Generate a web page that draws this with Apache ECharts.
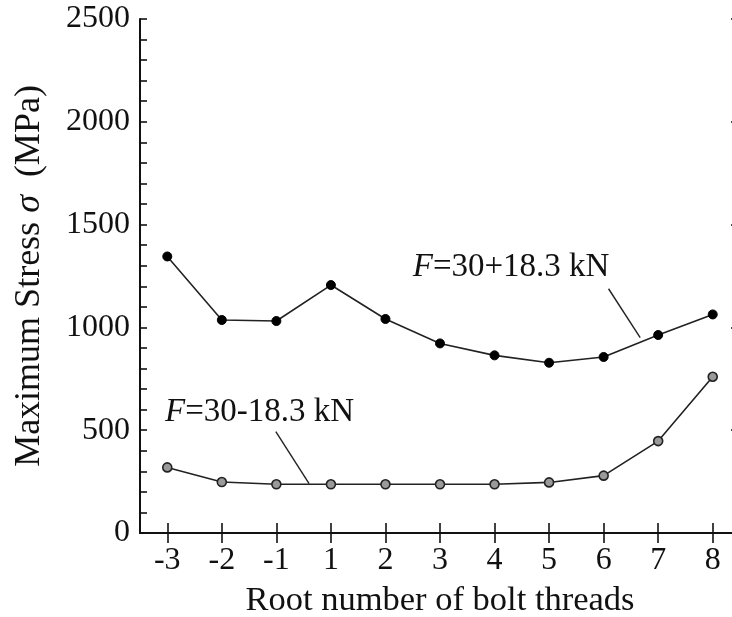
<!DOCTYPE html>
<html>
<head>
<meta charset="utf-8">
<script src="https://cdn.jsdelivr.net/npm/echarts@6/dist/echarts.min.js"></script>
<style>
  html, body { margin: 0; padding: 0; background: #fff; }
  #chart { width: 732px; height: 617px; }
</style>
</head>
<body>
<div id="chart"></div>
<script>
// Root numbers of the engaged bolt threads
const threads = ['-3', '-2', '-1', '1', '2', '3', '4', '5', '6', '7', '8'];
// Maximum stress (MPa) at each thread root
const stressHigh = [1345, 1036, 1031, 1206, 1041, 922, 864, 828, 856, 963, 1063]; // F = 30 + 18.3 kN
const stressLow  = [319, 248, 237, 237, 237, 237, 237, 246, 279, 447, 760];       // F = 30 - 18.3 kN
const yTicks = [0, 500, 1000, 1500, 2000, 2500];

// Callout labels: text anchor and leader line ends, in data units (category index, MPa)
const calloutHigh = { label: [4.5, 1292], from: [8.09, 1188], to: [8.67, 950] };
const calloutLow  = { label: [-0.04, 588], from: [1.99, 493], to: [2.6, 240] };

const FONT = '"Liberation Serif", "DejaVu Serif", serif';
const INK = '#111';

const chart = echarts.init(document.getElementById('chart'), null, { renderer: 'canvas' });

const tickStyle = { lineStyle: { color: INK, width: 1.6 } };

chart.setOption({
  animation: false,
  backgroundColor: '#fff',
  // the frame runs slightly past the right edge of the page
  grid: {
    left: 140, width: 600, top: 19, bottom: 84,
    containLabel: false, outerBoundsMode: 'none'
  },
  xAxis: [
    {
      type: 'category',
      data: threads,
      boundaryGap: true,
      axisLine: { show: true, lineStyle: { color: INK, width: 2 } },
      axisTick: { show: true, inside: true, alignWithLabel: true, length: 10, ...tickStyle },
      axisLabel: { color: INK, fontFamily: FONT, fontSize: 32, margin: 12 },
      name: 'Root number of bolt threads',
      nameLocation: 'middle',
      nameGap: 50,
      nameTextStyle: { color: INK, fontFamily: FONT, fontSize: 34.5 },
      splitLine: { show: false }
    },
    {
      type: 'category',
      data: threads,
      position: 'top',
      boundaryGap: true,
      axisLine: { show: true, lineStyle: { color: INK, width: 2 } },
      axisTick: { show: true, inside: true, alignWithLabel: true, length: 10, ...tickStyle },
      axisLabel: { show: false },
      splitLine: { show: false }
    }
  ],
  yAxis: [
    {
      type: 'value',
      min: yTicks[0],
      max: yTicks[yTicks.length - 1],
      interval: 500,
      axisLine: { show: true, lineStyle: { color: INK, width: 2 } },
      axisTick: { show: true, inside: true, length: 7, ...tickStyle },
      minorTick: { show: true, splitNumber: 5, length: 7, lineStyle: { color: INK, width: 1.6 } },
      axisLabel: {
        color: INK, fontFamily: FONT, fontSize: 32, margin: 10,
        formatter: (v) => String(v)
      },
      splitLine: { show: false },
      name: '{n|Maximum Stress }{s|σ}{n|  (MPa)}',
      nameLocation: 'middle',
      nameRotate: 90,
      nameGap: 92,
      nameTextStyle: {
        rich: {
          n: { color: INK, fontFamily: FONT, fontSize: 36 },
          s: { color: INK, fontFamily: FONT, fontSize: 36, fontStyle: 'italic' }
        }
      }
    },
    {
      type: 'value',
      position: 'right',
      min: yTicks[0],
      max: yTicks[yTicks.length - 1],
      interval: 500,
      axisLine: { show: true, lineStyle: { color: INK, width: 2 } },
      axisTick: { show: true, inside: true, length: 9, ...tickStyle },
      axisLabel: { show: false },
      splitLine: { show: false }
    }
  ],
  series: [
    {
      name: 'F=30+18.3 kN',
      type: 'line',
      data: stressHigh,
      symbol: 'circle',
      symbolSize: 9,
      itemStyle: { color: '#000', borderColor: '#000', borderWidth: 1 },
      lineStyle: { color: '#222', width: 1.6 },
      z: 3
    },
    {
      name: 'F=30-18.3 kN',
      type: 'line',
      data: stressLow,
      symbol: 'circle',
      symbolSize: 9,
      itemStyle: { color: '#9a9a9a', borderColor: '#222', borderWidth: 1.6 },
      lineStyle: { color: '#222', width: 1.6 },
      z: 3
    }
  ]
});

// Map a fractional category index and a stress value to pixels
function toPx(pt) {
  const i0 = Math.max(0, Math.min(Math.floor(pt[0]), threads.length - 2));
  const a = chart.convertToPixel({ xAxisIndex: 0, yAxisIndex: 0 }, [i0, pt[1]]);
  const b = chart.convertToPixel({ xAxisIndex: 0, yAxisIndex: 0 }, [i0 + 1, pt[1]]);
  const t = pt[0] - i0;
  return [a[0] + (b[0] - a[0]) * t, a[1]];
}

function callout(c, text) {
  const lp = toPx(c.label);
  const p1 = toPx(c.from);
  const p2 = toPx(c.to);
  return [
    {
      type: 'text',
      x: lp[0],
      y: lp[1],
      style: {
        text: '{i|F}{n|' + text + '}',
        verticalAlign: 'middle',
        rich: {
          i: { fontFamily: FONT, fontSize: 33, fontStyle: 'italic', fill: INK },
          n: { fontFamily: FONT, fontSize: 33, fill: INK }
        }
      },
      z: 10
    },
    {
      type: 'line',
      shape: { x1: p1[0], y1: p1[1], x2: p2[0], y2: p2[1] },
      style: { stroke: '#222', lineWidth: 1.4 },
      z: 10
    }
  ];
}

chart.setOption({
  graphic: [
    ...callout(calloutHigh, '=30+18.3 kN'),
    ...callout(calloutLow, '=30-18.3 kN')
  ]
});
</script>
</body>
</html>
